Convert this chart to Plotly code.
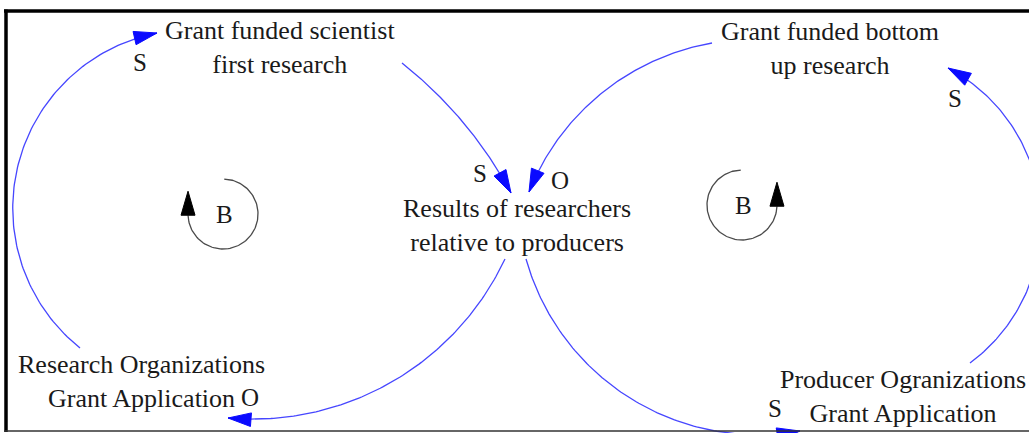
import numpy as np
import plotly.graph_objects as go

# ---------------- data ----------------
node_labels = [
    "Grant funded scientist<br>first research",
    "Grant funded bottom<br>up research",
    "Results of researchers<br>relative to producers",
    "Research Organizations<br>Grant Application",
    "Producer Ogranizations<br>Grant Application",
]
node_x = [280, 830, 517, 141, 903]
node_y = [47, 48, 225, 381, 396]

# causal links: start, a point on the arc, end (arrow tip)
link_start = [(80, 348), (402, 63), (712, 43), (970, 363), (505, 259), (526, 259)]
link_mid = [(13, 218), (467, 127), (597, 97), (1041, 222), (433, 353), (577, 353)]
link_end = [(157, 33), (511, 193), (529, 192), (948, 68), (228, 418), (800, 431)]

polarity_labels = ["S", "S", "O", "S", "O", "S"]
polarity_x = [140, 480, 560, 955, 250, 775]
polarity_y = [62, 173, 180, 98, 397, 408]

loop_labels = ["B", "B"]
loop_x = [223, 742]
loop_y = [214, 205]
loop_r = [35, 35]
loop_start_deg = [-88, -92]
loop_end_deg = [178, 2]
loop_dir = [1, -1]  # 1 = clockwise on screen, -1 = counter-clockwise

W, H = 1029, 433
BLUE_LINE = "#4646ff"
BLUE_HEAD = "#0a0aff"
GRAY = "#4a4a4a"
TXT = "#1a1a1a"
FONT = "Liberation Serif"


def arc3(p0, p1, p2, n=120):
    (x1, y1), (x2, y2), (x3, y3) = p0, p1, p2
    d = 2 * (x1 * (y2 - y3) + x2 * (y3 - y1) + x3 * (y1 - y2))
    ux = ((x1**2 + y1**2) * (y2 - y3) + (x2**2 + y2**2) * (y3 - y1) + (x3**2 + y3**2) * (y1 - y2)) / d
    uy = ((x1**2 + y1**2) * (x3 - x2) + (x2**2 + y2**2) * (x1 - x3) + (x3**2 + y3**2) * (x2 - x1)) / d
    r = np.hypot(x1 - ux, y1 - uy)
    a0 = np.arctan2(y1 - uy, x1 - ux)
    a1 = np.arctan2(y2 - uy, x2 - ux)
    a2 = np.arctan2(y3 - uy, x3 - ux)

    def ccw(a, b):
        return (b - a) % (2 * np.pi)
    if ccw(a0, a1) < ccw(a0, a2):
        t = a0 + np.linspace(0, ccw(a0, a2), n)
    else:
        t = a0 - np.linspace(0, ccw(a2, a0), n)
    return ux + r * np.cos(t), uy + r * np.sin(t)


def head(tipx, tipy, dx, dy, L=23, hw=6.8):
    n = np.hypot(dx, dy)
    dx, dy = dx / n, dy / n
    bx, by = tipx - L * dx, tipy - L * dy
    px, py = -dy, dx
    return ([tipx, bx + hw * px, bx - hw * px, tipx],
            [tipy, by + hw * py, by - hw * py, tipy])


fig = go.Figure()

# links
for s, m, e in zip(link_start, link_mid, link_end):
    xs, ys = arc3(s, m, e)
    fig.add_trace(go.Scatter(x=xs, y=ys, mode="lines",
                             line=dict(color=BLUE_LINE, width=1.3),
                             hoverinfo="skip", showlegend=False, cliponaxis=True))
    hx, hy = head(xs[-1], ys[-1], xs[-1] - xs[-4], ys[-1] - ys[-4])
    fig.add_trace(go.Scatter(x=hx, y=hy, mode="lines", fill="toself",
                             fillcolor=BLUE_HEAD, line=dict(color=BLUE_HEAD, width=1),
                             hoverinfo="skip", showlegend=False))

# loop markers
for cx, cy, r, a0, a1, d in zip(loop_x, loop_y, loop_r, loop_start_deg, loop_end_deg, loop_dir):
    if d == 1:
        end = a1 if a1 > a0 else a1 + 360
    else:
        end = a1 if a1 < a0 else a1 - 360
    t = np.radians(np.linspace(a0, end, 100))
    xs = cx + r * np.cos(t)
    ys = cy + r * np.sin(t)
    fig.add_trace(go.Scatter(x=xs, y=ys, mode="lines",
                             line=dict(color=GRAY, width=1.3),
                             hoverinfo="skip", showlegend=False))
    hx, hy = head(xs[-1], ys[-1] - 24, 0, -1, L=24, hw=7)
    fig.add_trace(go.Scatter(x=hx, y=hy, mode="lines", fill="toself",
                             fillcolor="#000000", line=dict(color="#000000", width=1),
                             hoverinfo="skip", showlegend=False))

annotations = []
for t, x, y in zip(node_labels, node_x, node_y):
    annotations.append(dict(x=x, y=y, text=t, showarrow=False, xanchor="center",
                            yanchor="middle", align="center",
                            font=dict(family=FONT, size=26, color=TXT)))
for t, x, y in zip(polarity_labels, polarity_x, polarity_y):
    annotations.append(dict(x=x, y=y, text=t, showarrow=False, xanchor="center",
                            yanchor="middle", font=dict(family=FONT, size=25, color=TXT)))
for t, x, y in zip(loop_labels, loop_x, loop_y):
    annotations.append(dict(x=x + 1, y=y, text=t, showarrow=False, xanchor="center",
                            yanchor="middle", font=dict(family=FONT, size=25, color=TXT)))

shapes = [
    dict(type="line", x0=4, x1=W, y0=11, y1=11, line=dict(color="#000000", width=3.5)),
    dict(type="line", x0=6, x1=6, y0=9.5, y1=432, line=dict(color="#000000", width=3.5)),
    dict(type="line", x0=4, x1=W, y0=431, y1=431, line=dict(color="#333333", width=1.5)),
]

fig.update_layout(
    width=W, height=H, margin=dict(l=0, r=0, t=0, b=0),
    paper_bgcolor="white", plot_bgcolor="white",
    xaxis=dict(range=[0, W], visible=False, fixedrange=True),
    yaxis=dict(range=[H, 0], visible=False, fixedrange=True),
    annotations=annotations, shapes=shapes, showlegend=False,
)

fig.write_html("out.html", config={"displayModeBar": False},
               post_script="document.body.style.margin='0';document.body.style.overflow='hidden';")
